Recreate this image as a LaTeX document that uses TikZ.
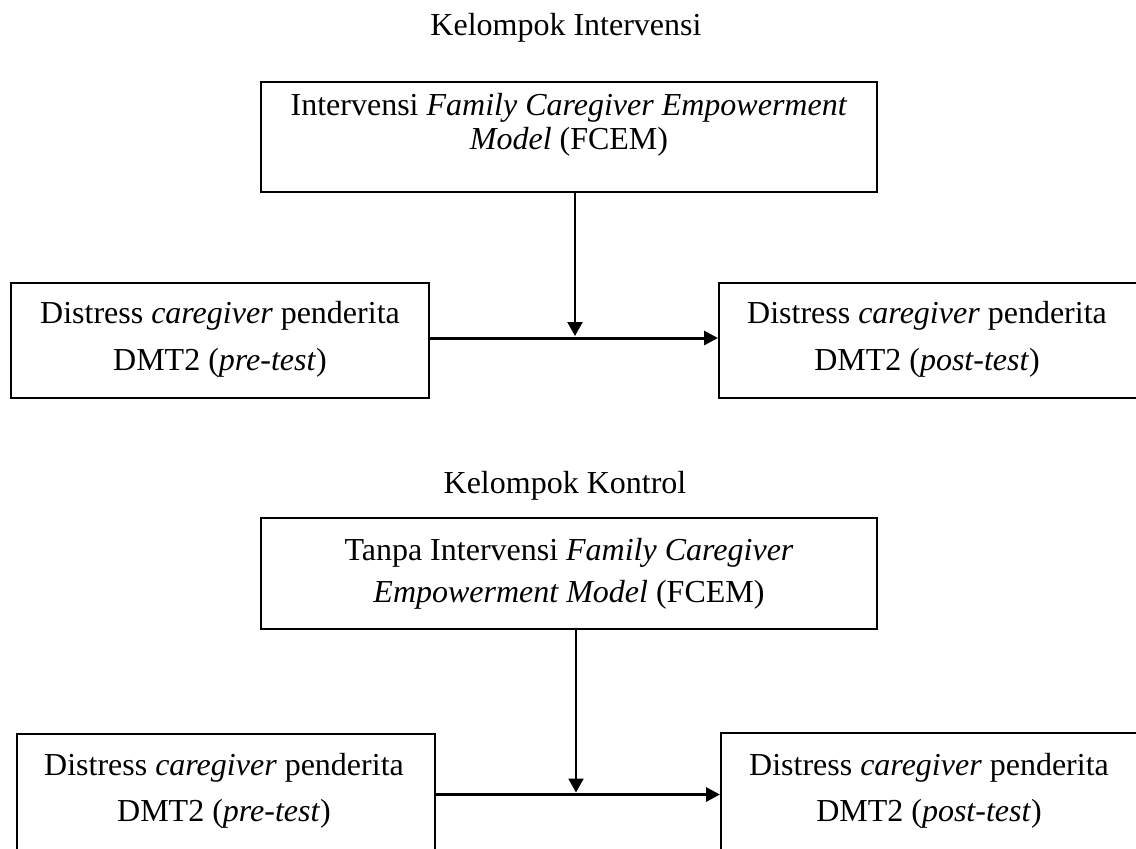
\documentclass[tikz,border=0pt]{standalone}
\usepackage{fontspec}
\setmainfont{Liberation Serif}
\usetikzlibrary{arrows.meta,fit}
\begin{document}
\begin{tikzpicture}[x=0.5pt,y=-0.5pt,
  boxst/.style={draw, line width=1pt, inner sep=0pt},
  txt/.style={align=center, inner sep=0pt, font=\fontsize{16pt}{#1}\selectfont},
  ttl/.style={anchor=base, inner sep=0pt, font=\fontsize{16pt}{19pt}\selectfont},
  hconn/.style={line width=1.5pt, -{Triangle[length=7pt,width=7pt]}},
  vconn/.style={line width=1.1pt, -{Triangle[length=7pt,width=7.5pt]}}]
\useasboundingbox (0,0) rectangle (1136,848);
\fill[white] (0,0) rectangle (1136,848);
\clip (0,0) rectangle (1136,848);

% ---- Kelompok Intervensi ----
\node[ttl] (t1) at (566,35) {Kelompok Intervensi};
\node[boxst, fit={(261,82) (877,192)}] (A) {};
\node[txt=17pt] (At) at (569,125.2) {\strut Intervensi \textit{Family Caregiver Empowerment}\\\textit{Model} (FCEM)\strut};

\node[boxst, fit={(10.7,283) (429,398)}] (BL) {};
\node[txt=23.5pt] (BLt) at (220,337.1) {\strut Distress \textit{caregiver} penderita\\DMT2 (\textit{pre-test})\strut};
\node[boxst, fit={(719,283) (1137.5,398)}] (BR) {};
\node[txt=23.5pt] (BRt) at (927,337.1) {\strut Distress \textit{caregiver} penderita\\DMT2 (\textit{post-test})\strut};

\coordinate (j1) at (575,338);
\draw[hconn] (BL.east |- j1) -- (BR.west |- j1);
\draw[vconn] (A.south -| j1) -- ([yshift=1pt]j1);

% ---- Kelompok Kontrol ----
\node[ttl] (t2) at (565,493) {Kelompok Kontrol};
\node[boxst, fit={(261,518) (877,629)}] (C) {};
\node[txt=21pt] (Ct) at (569,572.6) {\strut Tanpa Intervensi \textit{Family Caregiver}\\\textit{Empowerment Model} (FCEM)\strut};

\node[boxst, fit={(16.5,734) (435,852)}] (DL) {};
\node[txt=23pt] (DLt) at (224,788.8) {\strut Distress \textit{caregiver} penderita\\DMT2 (\textit{pre-test})\strut};
\node[boxst, fit={(721,733) (1137.5,852)}] (DR) {};
\node[txt=23pt] (DRt) at (929,788.8) {\strut Distress \textit{caregiver} penderita\\DMT2 (\textit{post-test})\strut};

\coordinate (j2) at (576,794.5);
\draw[hconn] (DL.east |- j2) -- (DR.west |- j2);
\draw[vconn] (C.south -| j2) -- ([yshift=1pt]j2);
\end{tikzpicture}
\end{document}
